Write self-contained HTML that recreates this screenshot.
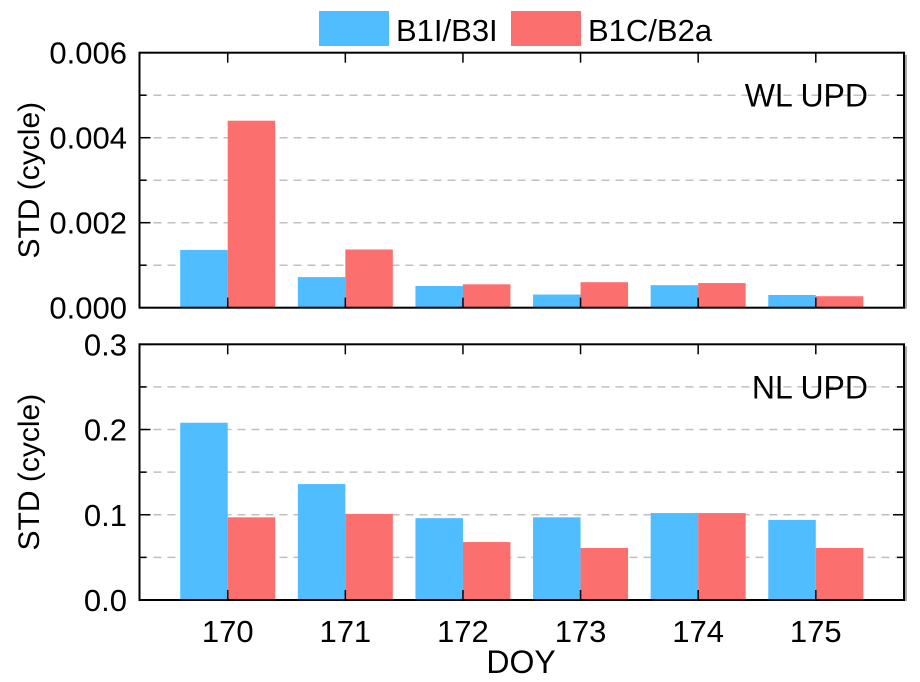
<!DOCTYPE html>
<html><head><meta charset="utf-8"><style>
html,body{margin:0;padding:0;background:#fff;}
svg{display:block;font-family:"Liberation Sans",Arial,sans-serif;}
</style></head><body>
<svg id="chart" width="920" height="682" viewBox="0 0 920 682">
<g id="legend">
 <rect x="319" y="11" width="70" height="35" fill="#4fbdff"/>
 <text x="396" y="41" font-size="31">B1I/B3I</text>
 <rect x="511" y="11" width="70" height="35" fill="#fc6f6f"/>
 <text x="588" y="41" font-size="31">B1C/B2a</text>
</g>
<text x="521" y="673" font-size="32" text-anchor="middle">DOY</text>
</svg>
<script>
const categories = ['170','171','172','173','174','175'];
const wlB1I = [0.00136, 0.00072, 0.00051, 0.00031, 0.00053, 0.00030];
const wlB1C = [0.00440, 0.00137, 0.00055, 0.00060, 0.00058, 0.00027];
const nlB1I = [0.208, 0.136, 0.096, 0.097, 0.102, 0.094];
const nlB1C = [0.097, 0.101, 0.068, 0.061, 0.102, 0.061];
const wlTicks = ['0.000','0.002','0.004','0.006'];
const nlTicks = ['0.0','0.1','0.2','0.3'];

const NS='http://www.w3.org/2000/svg';
const svg=document.getElementById('chart');
const X0=139.5, X1=904;
const step=(X1-X0)/6.5;
function xc(i){return X0+(i+0.75)*step;}
const bw=47.5;
function mk(tag,attrs,parent){const e=document.createElementNS(NS,tag);for(const k in attrs)e.setAttribute(k,attrs[k]);(parent||svg).appendChild(e);return e;}

function panel(name,top,bottom,max,ticks,s1,s2,label,showX){
  const g=mk('g',{});
  
  
  const y=v=>bottom-(v/max)*(bottom-top);
  const minor=max/6;
  for(let k=1;k<6;k++){
    const yy=y(minor*k);
    const gl=mk('line',{x1:X0,x2:X1,y1:yy,y2:yy,stroke:'#c0c0c0','stroke-width':1.5,'stroke-dasharray':'8,6'},g);
    
    
  }
  for(let i=0;i<categories.length;i++){
    const b1=mk('rect',{x:xc(i)-bw,y:y(s1[i]),width:bw,height:bottom-y(s1[i]),fill:'#4fbdff'},g);
    
    
    const b2=mk('rect',{x:xc(i),y:y(s2[i]),width:bw,height:bottom-y(s2[i]),fill:'#fc6f6f'},g);
    
    
    mk('line',{x1:xc(i),x2:xc(i),y1:top,y2:top+10,stroke:'#000','stroke-width':1.5},g);
    mk('line',{x1:xc(i),x2:xc(i),y1:bottom,y2:bottom-10,stroke:'#000','stroke-width':1.5},g);
    if(showX){
      const t=mk('text',{x:xc(i),y:bottom+42,'font-size':31,'text-anchor':'middle'},g);
      t.textContent=categories[i];
      
      
    }
  }
  for(let k=0;k<=6;k++){
    const yy=y(minor*k);
    mk('line',{x1:X0,x2:X0+(k%2?7:11),y1:yy,y2:yy,stroke:'#000','stroke-width':1.5},g);
    mk('line',{x1:X1,x2:X1-(k%2?7:11),y1:yy,y2:yy,stroke:'#000','stroke-width':1.5},g);
  }
  ticks.forEach((tl,k)=>{
    const t=mk('text',{x:127,y:y(max*k/(ticks.length-1))+11,'font-size':31,'text-anchor':'end'},g);
    t.textContent=tl;
    
    
  });
  mk('rect',{x:X0,y:top,width:X1-X0,height:bottom-top,fill:'none',stroke:'#000','stroke-width':2},g);
  mk('line',{x1:X1+2,x2:X1+2,y1:top+2,y2:bottom+1,stroke:'#aaa','stroke-width':2},g);
  const lt=mk('text',{x:868,y:top+54,'font-size':32,'text-anchor':'end'},g);
  lt.textContent=label;
  
  
  const cy=(top+bottom)/2;
  const yt=mk('text',{x:0,y:0,'font-size':30,'text-anchor':'middle',transform:'translate(39,'+cy+') rotate(-90)'},g);
  yt.textContent='STD (cycle)';
  
  
}
panel('wl-upd',52.7,307.7,0.006,wlTicks,wlB1I,wlB1C,'WL UPD',false);
panel('nl-upd',344.3,600,0.3,nlTicks,nlB1I,nlB1C,'NL UPD',true);
</script>
</body></html>
